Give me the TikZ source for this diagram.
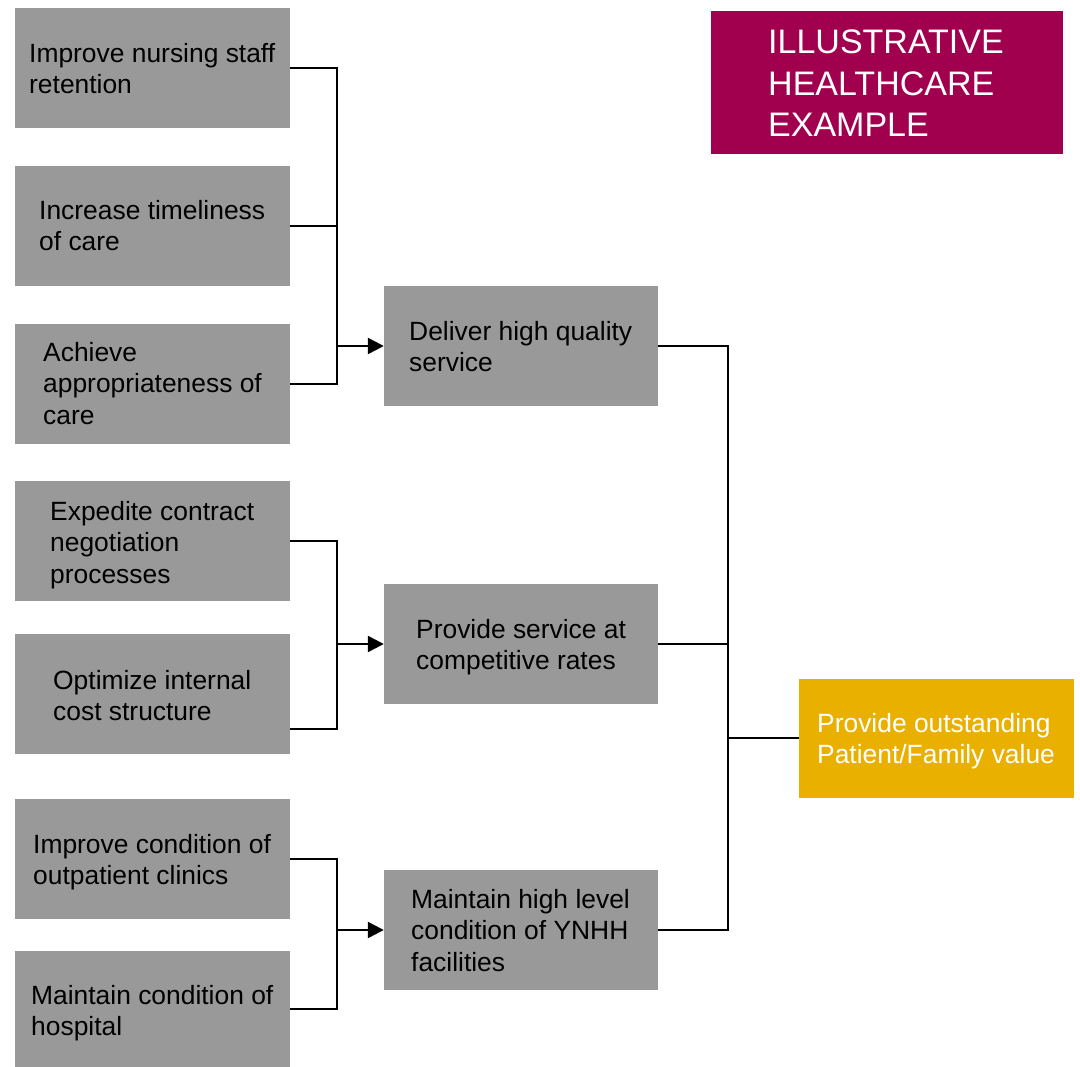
\documentclass[tikz,border=0pt]{standalone}
\usepackage{fontspec}
\setmainfont{Liberation Sans}
\usetikzlibrary{arrows.meta,calc}
\definecolor{boxgray}{HTML}{999999}
\definecolor{maroon}{HTML}{A0004D}
\definecolor{gold}{HTML}{EAB000}
\tikzset{
  gbox/.style={fill=boxgray, draw=none, inner sep=0pt},
  leftbox/.style={gbox, minimum width=275pt, minimum height=120pt},
  midbox/.style={gbox, minimum width=274pt, minimum height=120pt},
  lbl/.style={anchor=north west, inner sep=0pt, align=left, font=\fontsize{26.4}{31.7}\selectfont},
  conn/.style={line width=2.4pt},
  connr/.style={line width=2pt},
  arr/.style={line width=2.4pt, -{Triangle[length=16pt,width=16pt]}}
}
\begin{document}
\begin{tikzpicture}[x=1pt,y=-1pt]
\useasboundingbox (0,0) rectangle (1080,1067);
% left boxes
\node[leftbox] (b1) at (152.5,68) {};
\node[leftbox] (b2) at (152.5,226) {};
\node[leftbox] (b3) at (152.5,384) {};
\node[leftbox] (b4) at (152.5,541) {};
\node[leftbox] (b5) at (152.5,694) {};
\node[leftbox] (b6) at (152.5,859) {};
\node[leftbox, minimum height=116pt] (b7) at (152.5,1009) {};
% middle boxes
\node[midbox] (mA) at (521,346) {};
\node[midbox] (mB) at (521,644) {};
\node[midbox] (mC) at (521,930) {};
% right box
\node[fill=gold, inner sep=0pt, minimum width=275pt, minimum height=119pt] (rR) at (936.5,738) {};
% illustrative box
\node[fill=maroon, inner sep=0pt, minimum width=352pt, minimum height=143pt] (ill) at (887,82.5) {};

% labels
\node[lbl] (t1) at (29,39.8) {\strut Improve nursing staff\\retention};
\node[lbl] (t2) at (39,196.8) {\strut Increase timeliness\\of care};
\node[lbl] (t3) at (43,338.8) {\strut Achieve\\appropriateness of\\care};
\node[lbl] (t4) at (50,497.8) {\strut Expedite contract\\negotiation\\processes};
\node[lbl] (t5) at (53,666.8) {\strut Optimize internal\\cost structure};
\node[lbl] (t6) at (33,830.8) {\strut Improve condition of\\outpatient clinics};
\node[lbl] (t7) at (31,981.8) {\strut Maintain condition of\\hospital};
\node[lbl] (tA) at (409,317.8) {\strut Deliver high quality\\service};
\node[lbl] (tB) at (416,615.8) {\strut Provide service at\\competitive rates};
\node[lbl] (tC) at (411,885.8) {\strut Maintain high level\\condition of YNHH\\facilities};
\node[lbl, text=white] (tR) at (817,709.8) {\strut Provide outstanding\\Patient/Family value};
\node[anchor=north west, inner sep=0pt, align=left, text=white, font=\fontsize{34}{41.7}\selectfont] (tI) at (768,24.1) {\strut ILLUSTRATIVE\\HEALTHCARE\\EXAMPLE};

% junction coordinates
\coordinate (j1) at (337,346);
\coordinate (j2) at (337,644);
\coordinate (j3) at (337,930);
\coordinate (jr) at (728,738);
\coordinate (p5) at ($(b5.south east)+(0,-25)$);

% group 1
\draw[conn] (b1.east) -- (b1.east -| j1) -- (b3.east -| j1) -- (b3.east);
\draw[conn] (b2.east) -- (b2.east -| j1);
\draw[arr] (j1) -- (mA.west);
% group 2
\draw[conn] (b4.east) -- (b4.east -| j2) -- (p5 -| j2) -- (p5);
\draw[arr] (j2) -- (mB.west);
% group 3
\draw[conn] (b6.east) -- (b6.east -| j3) -- (b7.east -| j3) -- (b7.east);
\draw[arr] (j3) -- (mC.west);
% right bracket
\draw[connr] (mA.east) -- (mA.east -| jr) -- (mC.east -| jr) -- (mC.east);
\draw[connr] (mB.east) -- (mB.east -| jr);
\draw[connr] (jr) -- (rR.west);
\end{tikzpicture}
\end{document}
